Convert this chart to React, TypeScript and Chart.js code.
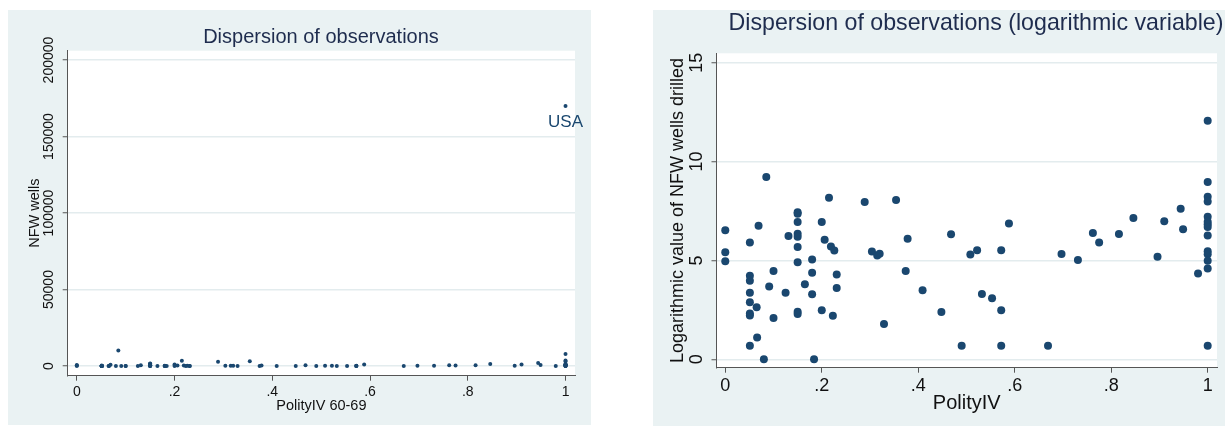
import React, { useEffect, useRef } from 'react';
import { Chart, registerables } from 'chart.js';

Chart.register(...registerables);

// ---------- data ----------
const polityIV = [
  0, 0, 0, 0.051, 0.051, 0.051, 0.051, 0.051, 0.051, 0.051, 0.051, 0.065, 0.066, 0.069, 0.08,
  0.085, 0.091, 0.1, 0.1, 0.125, 0.131, 0.15, 0.15, 0.15, 0.15, 0.15, 0.15, 0.15, 0.15, 0.15,
  0.165, 0.18, 0.18, 0.18, 0.184, 0.2, 0.2, 0.206, 0.215, 0.219, 0.226, 0.223, 0.231, 0.231,
  0.289, 0.304, 0.315, 0.32, 0.329, 0.354, 0.374, 0.378, 0.409, 0.448, 0.468, 0.49, 0.508,
  0.522, 0.532, 0.553, 0.572, 0.572, 0.572, 0.588, 0.669, 0.697, 0.731, 0.762, 0.775, 0.816,
  0.846, 0.896, 0.91, 0.944, 0.949, 0.98, 1, 1, 1, 1, 1, 1, 1, 1, 1, 1, 1, 1, 1, 1,
];

const logWellsDrilled = [
  6.53, 5.41, 4.96, 5.91, 4.22, 3.97, 3.36, 2.88, 2.31, 2.21, 0.69, 2.63, 1.1, 6.76, 0,
  9.22, 3.68, 4.46, 2.09, 3.36, 6.24, 7.44, 7.36, 6.94, 6.35, 6.2, 5.68, 4.91, 2.41, 2.29,
  3.79, 5.05, 4.38, 3.29, 0, 6.94, 2.48, 6.05, 8.17, 5.7, 5.5, 2.2, 4.29, 3.61,
  7.96, 5.45, 5.25, 5.34, 1.79, 8.06, 4.46, 6.1, 3.49, 2.39, 6.33, 0.69, 5.3,
  5.51, 3.3, 3.09, 5.52, 2.48, 0.69, 6.87, 0.69, 5.33, 5.02, 6.39, 5.91, 6.34,
  7.15, 5.19, 6.98, 7.61, 6.58, 4.34, 12.06, 8.97, 8.22, 7.98, 7.21, 6.96, 6.83, 6.69, 6.26,
  5.46, 5.31, 4.99, 4.59, 0.69,
];

const nfwWells = [
  685, 224, 143, 369, 68, 53, 29, 18, 10, 9, 2, 14, 3, 863, 1,
  10100, 40, 86, 8, 29, 513, 1700, 1570, 1030, 570, 490, 290, 136, 11, 10,
  44, 156, 80, 27, 1, 1030, 12, 424, 3530, 299, 245, 9, 73, 37,
  2860, 233, 191, 209, 6, 3170, 86, 446, 33, 11, 561, 2, 200,
  247, 27, 22, 250, 12, 2, 963, 2, 206, 151, 596, 369, 567,
  1270, 179, 1075, 2020, 720, 77, 170000, 7900, 3710, 2920, 1350, 1050, 925, 804, 523,
  235, 202, 147, 98, 2,
];

const xTickValues = [0, 0.2, 0.4, 0.6, 0.8, 1];
const xTickLabels = ['0', '.2', '.4', '.6', '.8', '1'];
const wellsTicks = [0, 50000, 100000, 150000, 200000];
const wellsTickLabels = ['0', '50000', '100000', '150000', '200000'];
const logTicks = [0, 5, 10, 15];
const logTickLabels = ['0', '5', '10', '15'];
const labelText = 'USA';
const labelX = 1;
const labelY = 170000;

// ---------- styles ----------
const FONT = '"Liberation Sans", Arial, Helvetica, sans-serif';
const NAVY = '#1a476f';
const PANEL_BG = '#eaf2f3';
const GRID = '#e3ecee';
const AXIS = '#555555';
const TEXT = '#111111';
const TITLE = '#1e2c4e';

// ---------- plugins ----------
const plotBg = {
  id: 'plotBg',
  beforeDraw(chart: any) {
    const { ctx, chartArea: a } = chart;
    ctx.save();
    ctx.fillStyle = '#ffffff';
    ctx.fillRect(a.left, a.top, a.right - a.left, a.bottom - a.top);
    ctx.restore();
  },
};

const panelTitle = {
  id: 'panelTitle',
  afterDraw(chart: any, _args: any, opts: any) {
    if (!opts || !opts.text) return;
    const ctx = chart.ctx;
    ctx.save();
    ctx.font = `${opts.size}px ${FONT}`;
    ctx.fillStyle = opts.color;
    ctx.textAlign = 'center';
    ctx.textBaseline = 'middle';
    ctx.fillText(opts.text, opts.x, opts.y);
    ctx.restore();
  },
};

const rotatedYTicks = {
  id: 'rotatedYTicks',
  afterDraw(chart: any, _args: any, opts: any) {
    if (!opts || !opts.labels) return;
    const ctx = chart.ctx;
    const scale = chart.scales.y;
    ctx.save();
    ctx.font = `${opts.size}px ${FONT}`;
    ctx.fillStyle = opts.color;
    ctx.textAlign = 'center';
    ctx.textBaseline = 'middle';
    opts.values.forEach((v: number, i: number) => {
      const py = scale.getPixelForValue(v);
      ctx.save();
      ctx.translate(opts.x, py);
      ctx.rotate(-Math.PI / 2);
      ctx.fillText(opts.labels[i], 0, 0);
      ctx.restore();
    });
    ctx.restore();
  },
};

const pointLabel = {
  id: 'pointLabel',
  afterDatasetsDraw(chart: any, _args: any, opts: any) {
    if (!opts || !opts.text) return;
    const ctx = chart.ctx;
    const px = chart.scales.x.getPixelForValue(opts.x);
    const py = chart.scales.y.getPixelForValue(opts.y);
    ctx.save();
    ctx.font = `${opts.size}px ${FONT}`;
    ctx.fillStyle = opts.color;
    ctx.textAlign = 'center';
    ctx.textBaseline = 'middle';
    ctx.fillText(opts.text, px, py + opts.dy);
    ctx.restore();
  },
};

type PanelSpec = {
  left: number;
  top: number;
  width: number;
  height: number;
  ys: number[];
  radius: number;
  xMin: number;
  xMax: number;
  yMin: number;
  yMax: number;
  yTicks: number[];
  yTickLabels: string[];
  padTop: number;
  padRight: number;
  yAxisWidth: number;
  xAxisHeight: number;
  tickFont: number;
  xTickPad: number;
  xTitle: string;
  xTitleFont: number;
  xTitlePadBottom: number;
  yTitle: string;
  yTitleFont: number;
  yTitlePadTop: number;
  yTickX: number;
  title: string;
  titleSize: number;
  titleX: number;
  titleY: number;
  label?: any;
};

function Panel({ spec }: { spec: PanelSpec }) {
  const ref = useRef<HTMLCanvasElement | null>(null);
  useEffect(() => {
    if (!ref.current) return;
    const s = spec;
    const chart = new Chart(ref.current, {
      type: 'scatter',
      data: {
        datasets: [
          {
            data: polityIV.map((x, i) => ({ x, y: s.ys[i] })),
            backgroundColor: NAVY,
            borderColor: NAVY,
            borderWidth: 0,
            pointRadius: s.radius,
            pointHoverRadius: s.radius,
          },
        ],
      },
      options: {
        animation: false,
        responsive: false,
        maintainAspectRatio: false,
        events: [],
        layout: { padding: { top: s.padTop, right: s.padRight, left: 0, bottom: 0 } },
        plugins: {
          legend: { display: false },
          tooltip: { enabled: false },
          title: { display: false },
          panelTitle: { text: s.title, size: s.titleSize, x: s.titleX, y: s.titleY, color: TITLE },
          rotatedYTicks: { values: s.yTicks, labels: s.yTickLabels, x: s.yTickX, size: s.tickFont, color: TEXT },
          pointLabel: s.label || {},
        } as any,
        scales: {
          x: {
            type: 'linear',
            min: s.xMin,
            max: s.xMax,
            afterBuildTicks: (scale: any) => {
              scale.ticks = xTickValues.map((v) => ({ value: v }));
            },
            afterFit: (scale: any) => {
              scale.height = s.xAxisHeight;
            },
            ticks: {
              autoSkip: false,
              maxRotation: 0,
              minRotation: 0,
              padding: s.xTickPad,
              color: TEXT,
              font: { family: FONT, size: s.tickFont },
              callback: (_v: any, i: number) => xTickLabels[i],
            },
            grid: {
              drawOnChartArea: false,
              drawTicks: true,
              tickLength: 5,
              tickColor: AXIS,
              tickWidth: 1,
            },
            border: { display: true, color: AXIS, width: 1 },
            title: {
              display: true,
              text: s.xTitle,
              color: TEXT,
              font: { family: FONT, size: s.xTitleFont },
              padding: { top: 0, bottom: s.xTitlePadBottom },
            },
          },
          y: {
            type: 'linear',
            min: s.yMin,
            max: s.yMax,
            afterBuildTicks: (scale: any) => {
              scale.ticks = s.yTicks.map((v) => ({ value: v }));
            },
            afterFit: (scale: any) => {
              scale.width = s.yAxisWidth;
            },
            ticks: { display: false },
            grid: {
              color: GRID,
              lineWidth: 1.5,
              drawTicks: true,
              tickLength: 5,
              tickColor: AXIS,
              tickWidth: 1,
            },
            border: { display: true, color: AXIS, width: 1 },
            title: {
              display: true,
              text: s.yTitle,
              color: TEXT,
              font: { family: FONT, size: s.yTitleFont },
              padding: { top: s.yTitlePadTop, bottom: 0 },
            },
          },
        },
      } as any,
      plugins: [plotBg, panelTitle, rotatedYTicks, pointLabel],
    });
    return () => chart.destroy();
  }, [spec]);

  return (
    <div
      style={{
        position: 'absolute',
        left: spec.left,
        top: spec.top,
        width: spec.width,
        height: spec.height,
        background: PANEL_BG,
      }}
    >
      <canvas
        ref={ref}
        width={spec.width}
        height={spec.height}
        style={{ display: 'block', width: spec.width, height: spec.height }}
      />
    </div>
  );
}

const leftSpec: PanelSpec = {
  left: 8,
  top: 10,
  width: 583,
  height: 415,
  ys: nfwWells,
  radius: 2,
  xMin: -0.0186,
  xMax: 1.0194,
  yMin: -6300,
  yMax: 206100,
  yTicks: wellsTicks,
  yTickLabels: wellsTickLabels,
  padTop: 40.7,
  padRight: 16,
  yAxisWidth: 59.7,
  xAxisHeight: 49.3,
  tickFont: 14,
  xTickPad: 2.6,
  xTitle: 'PolityIV 60-69',
  xTitleFont: 14.5,
  xTitlePadBottom: 10.3,
  yTitle: 'NFW wells',
  yTitleFont: 14.5,
  yTitlePadTop: 17.8,
  yTickX: 41.3,
  title: 'Dispersion of observations',
  titleSize: 20,
  titleX: 313,
  titleY: 27.5,
  label: { text: labelText, x: labelX, y: labelY, dy: 16, size: 17, color: NAVY },
};

const rightSpec: PanelSpec = {
  left: 653,
  top: 10,
  width: 572,
  height: 416,
  ys: logWellsDrilled,
  radius: 4,
  xMin: -0.0182,
  xMax: 1.0193,
  yMin: -0.425,
  yMax: 15.475,
  yTicks: logTicks,
  yTickLabels: logTickLabels,
  padTop: 43.3,
  padRight: 8,
  yAxisWidth: 63.5,
  xAxisHeight: 58.3,
  tickFont: 18,
  xTickPad: 3,
  xTitle: 'PolityIV',
  xTitleFont: 20,
  xTitlePadBottom: 10.7,
  yTitle: 'Logarithmic value of NFW wells drilled',
  yTitleFont: 18,
  yTitlePadTop: 14.2,
  yTickX: 44,
  title: 'Dispersion of observations (logarithmic variable)',
  titleSize: 23.2,
  titleX: 323,
  titleY: 13.5,
};

export default function App() {
  return (
    <div
      style={{
        position: 'fixed',
        left: 0,
        top: 0,
        width: 1225,
        height: 426,
        background: '#ffffff',
        overflow: 'hidden',
      }}
    >
      <Panel spec={leftSpec} />
      <Panel spec={rightSpec} />
    </div>
  );
}
